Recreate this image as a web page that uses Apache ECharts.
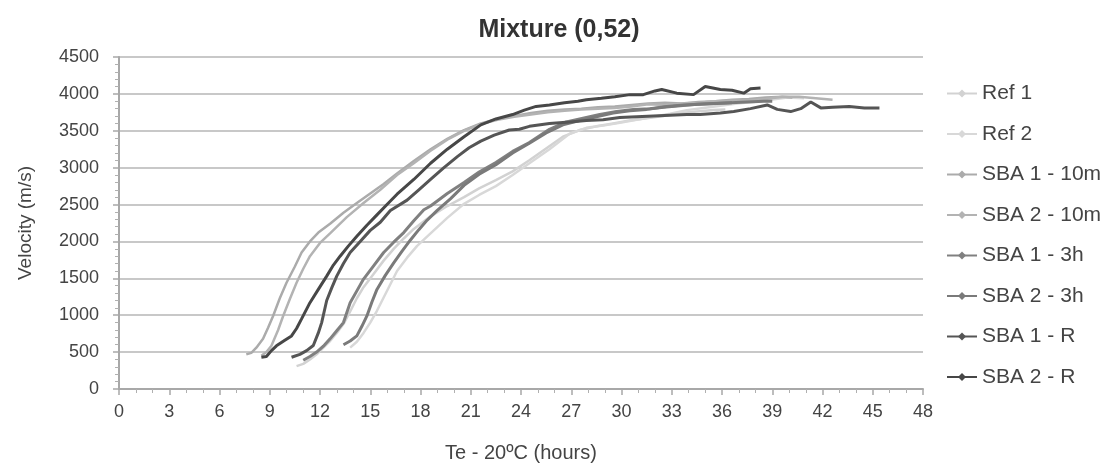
<!DOCTYPE html>
<html>
<head>
<meta charset="utf-8">
<script src="https://cdn.jsdelivr.net/npm/echarts@6/dist/echarts.min.js"></script>
<style>
html,body{margin:0;padding:0;background:#fff;}
#chart{width:1118px;height:468px;}
</style>
</head>
<body>
<div id="chart"></div>
<script>
// ---- data (hours, velocity m/s) ----
const seriesNames = ["Ref 1","Ref 2","SBA 1 - 10m","SBA 2 - 10m","SBA 1 - 3h","SBA 2 - 3h","SBA 1 - R","SBA 2 - R"];
const xTicks = [0,3,6,9,12,15,18,21,24,27,30,33,36,39,42,45,48];

const ref1 = [[10.6,310],[11.0,340],[11.4,400],[11.8,470],[12.2,560],[12.6,650],[13.0,760],[13.4,880],[13.8,1050],[14.2,1230],[14.6,1380],[15.2,1560],[15.8,1740],[16.4,1900],[17.0,2040],[17.6,2170],[18.6,2340],[19.6,2480],[20.6,2600],[21.5,2720],[22.5,2830],[23.5,2950],[24.5,3100],[25.5,3260],[26.5,3420],[27.5,3510],[28.5,3560],[29.5,3600],[30.5,3640],[31.5,3670],[32.5,3700],[33.5,3740],[34.5,3760],[35.5,3780],[36.2,3790]];
const ref2 = [[13.8,560],[14.2,640],[14.6,760],[15.0,900],[15.4,1060],[15.8,1240],[16.2,1420],[16.6,1600],[17.2,1780],[17.8,1940],[18.6,2110],[19.6,2320],[20.6,2510],[21.5,2630],[22.5,2750],[23.5,2900],[24.5,3060],[25.7,3250],[26.9,3460],[27.9,3540],[28.9,3570],[29.9,3610],[30.9,3650],[31.9,3690],[32.9,3730],[33.9,3780],[34.9,3810],[35.9,3840],[36.9,3870],[37.9,3890],[38.9,3920],[39.9,3950],[40.9,3940]];
const sba1_10m = [[7.6,470],[7.9,490],[8.2,560],[8.6,680],[8.9,830],[9.2,990],[9.6,1230],[10.0,1440],[10.5,1660],[10.9,1850],[11.4,2000],[11.9,2120],[12.6,2240],[13.4,2390],[14.2,2520],[15.0,2650],[15.8,2780],[16.6,2920],[17.6,3090],[18.6,3250],[19.6,3390],[20.6,3510],[21.6,3600],[22.6,3660],[23.6,3700],[24.6,3740],[25.6,3770],[26.6,3790],[27.6,3800],[28.6,3820],[29.6,3830],[30.6,3850],[31.6,3870],[32.6,3880],[33.6,3870],[34.6,3890],[35.6,3900],[36.6,3920],[37.6,3930],[38.6,3950],[39.6,3960],[40.2,3950]];
const sba2_10m = [[8.5,450],[8.8,500],[9.1,585],[9.5,800],[9.8,990],[10.2,1220],[10.6,1440],[11.0,1630],[11.4,1800],[12.0,1980],[12.6,2110],[13.6,2330],[14.6,2520],[15.6,2700],[16.6,2900],[17.6,3060],[18.6,3230],[19.6,3380],[20.6,3500],[21.6,3590],[22.6,3650],[23.6,3690],[24.6,3720],[25.6,3750],[26.6,3770],[27.6,3790],[28.6,3800],[29.6,3810],[30.6,3830],[31.6,3860],[32.6,3850],[33.6,3870],[34.6,3880],[35.6,3900],[36.6,3910],[37.6,3910],[38.6,3930],[39.6,3960],[40.6,3960],[41.6,3940],[42.6,3920]];
const sba1_3h = [[11.0,390],[11.4,440],[11.8,500],[12.2,580],[12.6,680],[13.0,790],[13.4,900],[13.8,1170],[14.2,1330],[14.6,1490],[15.2,1670],[15.8,1850],[16.4,1990],[17.0,2120],[17.6,2280],[18.2,2430],[18.6,2480],[19.6,2650],[20.6,2800],[21.5,2940],[22.5,3070],[23.5,3220],[24.5,3340],[25.7,3520],[26.7,3620],[27.7,3670],[28.7,3720],[29.7,3760],[30.7,3790],[31.7,3800],[32.7,3830],[33.7,3850],[34.7,3860],[35.7,3870],[36.6,3880]];
const sba2_3h = [[13.4,600],[13.8,650],[14.2,720],[14.5,850],[14.8,990],[15.1,1180],[15.4,1350],[15.9,1540],[16.4,1710],[16.9,1870],[17.4,2020],[17.9,2160],[18.4,2290],[19.0,2420],[19.8,2580],[20.6,2760],[21.5,2910],[22.5,3040],[23.5,3200],[24.5,3330],[25.5,3470],[26.5,3580],[27.5,3640],[28.5,3690],[29.5,3740],[30.5,3770],[31.5,3790],[32.5,3820],[33.5,3840],[34.5,3860],[35.5,3870],[36.5,3880],[37.5,3890],[38.5,3900],[39.0,3900]];
const sba1_R = [[10.3,430],[10.8,470],[11.2,520],[11.6,590],[11.9,760],[12.1,900],[12.4,1200],[12.7,1370],[13.0,1530],[13.4,1700],[13.8,1850],[14.4,2000],[15.0,2150],[15.6,2260],[16.2,2420],[17.2,2560],[17.9,2700],[18.6,2840],[19.4,3000],[20.2,3150],[20.9,3270],[21.6,3360],[22.4,3440],[23.3,3510],[23.9,3520],[24.5,3560],[25.7,3600],[26.9,3620],[27.9,3640],[28.9,3650],[29.9,3680],[30.9,3690],[31.9,3700],[32.9,3710],[33.9,3720],[34.7,3720],[35.9,3740],[36.7,3760],[37.7,3800],[38.7,3850],[39.3,3790],[40.1,3760],[40.7,3800],[41.3,3890],[41.9,3810],[42.6,3820],[43.6,3830],[44.5,3810],[45.4,3810]];
const sba2_R = [[8.5,430],[8.8,440],[9.1,520],[9.4,585],[9.9,660],[10.3,720],[10.6,820],[10.9,950],[11.4,1170],[11.9,1350],[12.4,1530],[12.8,1680],[13.2,1800],[13.7,1940],[14.2,2070],[14.8,2220],[15.4,2360],[16.0,2500],[16.6,2640],[17.6,2840],[18.6,3060],[19.6,3250],[20.6,3420],[21.6,3580],[22.5,3660],[23.5,3720],[24.2,3780],[24.9,3830],[25.7,3850],[26.6,3880],[27.4,3900],[27.9,3920],[28.8,3940],[29.6,3960],[30.5,3990],[31.3,3990],[32.0,4040],[32.4,4060],[33.3,4010],[34.3,3990],[35.0,4100],[35.9,4060],[36.6,4050],[37.3,4010],[37.7,4070],[38.3,4080]];

const seriesData = [ref1, ref2, sba1_10m, sba2_10m, sba1_3h, sba2_3h, sba1_R, sba2_R];
const seriesColors = ["#d2d2d2","#d8d8d8","#ababab","#b3b3b3","#808080","#7a7a7a","#555555","#474747"];
const seriesWidths = [2.5,2.5,2.5,2.5,3,3,3,3];

const chart = echarts.init(document.getElementById('chart'));
const labelFont = "'Liberation Sans', Arial, sans-serif";
chart.setOption({
  animation: false,
  backgroundColor: '#ffffff',
  title: {
    text: 'Mixture (0,52)',
    left: 'center',
    top: 13,
    textStyle: {fontFamily: labelFont, fontSize: 25, fontWeight: 'bold', color: '#333'}
  },
  legend: {
    orient: 'vertical',
    left: 941,
    top: 78,
    itemWidth: 30,
    itemHeight: 10,
    itemGap: 19.5,
    textStyle: {fontFamily: labelFont, fontSize: 21, color: '#444'},
    data: seriesNames
  },
  grid: {left: 119, right: 195, top: 57, bottom: 78},
  xAxis: {
    type: 'value',
    min: 0, max: 48, interval: 3,
    name: 'Te - 20ºC (hours)',
    nameLocation: 'middle',
    nameGap: 54,
    nameTextStyle: {fontFamily: labelFont, fontSize: 20, color: '#444'},
    axisLine: {show: true, onZero: false, lineStyle: {color: '#a8a8a8', width: 2}},
    axisTick: {show: true, length: 6, lineStyle: {color: '#a8a8a8', width: 1.5}},
    minorTick: {show: true, splitNumber: 3, length: 4, lineStyle: {color: '#b0b0b0', width: 1}},
    axisLabel: {fontFamily: labelFont, fontSize: 18, color: '#444', margin: 14,
      formatter: function (v) { return xTicks.indexOf(v) >= 0 ? String(v) : ''; }},
    splitLine: {show: false}
  },
  yAxis: {
    type: 'value',
    min: 0, max: 4500, interval: 500,
    name: 'Velocity (m/s)',
    nameLocation: 'middle',
    nameGap: 84,
    nameTextStyle: {fontFamily: labelFont, fontSize: 19, color: '#444'},
    axisLine: {show: true, lineStyle: {color: '#a8a8a8', width: 2}},
    axisTick: {show: true, length: 6, lineStyle: {color: '#a8a8a8', width: 1.5}},
    minorTick: {show: true, splitNumber: 5, length: 4, lineStyle: {color: '#b0b0b0', width: 1}},
    axisLabel: {fontFamily: labelFont, fontSize: 18, color: '#444', margin: 20,
      formatter: function (v) { return String(v); }},
    splitLine: {show: true, lineStyle: {color: '#c8c8c8', width: 2}}
  },
  series: seriesNames.map(function (name, i) {
    return {
      name: name,
      type: 'line',
      data: seriesData[i],
      showSymbol: false,
      symbol: 'diamond',
      symbolSize: 6,
      smooth: false,
      color: seriesColors[i],
      lineStyle: {color: seriesColors[i], width: seriesWidths[i]},
      itemStyle: {color: seriesColors[i]},
      z: 2 + i
    };
  })
});
</script>
</body>
</html>
